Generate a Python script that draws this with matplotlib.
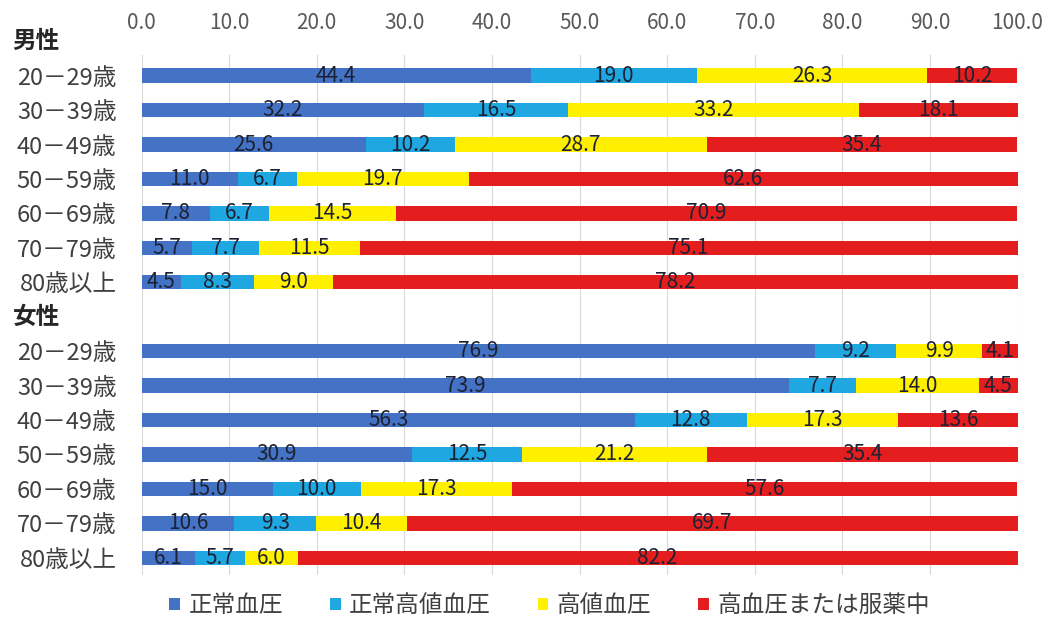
import numpy as np
import matplotlib.pyplot as plt
from matplotlib.transforms import blended_transform_factory

plt.rcParams['font.family'] = ['Noto Sans CJK JP', 'DejaVu Sans']

#%% datos
ages = ['20－29歳', '30－39歳', '40－49歳', '50－59歳', '60－69歳', '70－79歳', '80歳以上']
groups = ['男性', '女性']
series = ['正常血圧', '正常高値血圧', '高値血圧', '高血圧または服薬中']
colors = ['#4472C4', '#1FA7E1', '#FFF000', '#E41E1E']

male_normal = [44.4, 32.2, 25.6, 11.0, 7.8, 5.7, 4.5]
male_high_normal = [19.0, 16.5, 10.2, 6.7, 6.7, 7.7, 8.3]
male_elevated = [26.3, 33.2, 28.7, 19.7, 14.5, 11.5, 9.0]
male_hyper = [10.2, 18.1, 35.4, 62.6, 70.9, 75.1, 78.2]

female_normal = [76.9, 73.9, 56.3, 30.9, 15.0, 10.6, 6.1]
female_high_normal = [9.2, 7.7, 12.8, 12.5, 10.0, 9.3, 5.7]
female_elevated = [9.9, 14.0, 17.3, 21.2, 17.3, 10.4, 6.0]
female_hyper = [4.1, 4.5, 13.6, 35.4, 57.6, 69.7, 82.2]

male = [male_normal, male_high_normal, male_elevated, male_hyper]
female = [female_normal, female_high_normal, female_elevated, female_hyper]

#%% posiciones
# slot 0 = 男性 header, 1-7 male, 8 = 女性 header, 9-15 female
y_male = np.arange(1, 8)
y_female = np.arange(9, 16)

fig = plt.figure(figsize=(10.49, 6.22), dpi=100)
ax = fig.add_axes([0.135, 0.0756, 0.835, 0.836])

for data, ypos in [(male, y_male), (female, y_female)]:
    left = np.zeros(len(ypos))
    for i, vals in enumerate(data):
        vals = np.array(vals)
        bars = ax.barh(ypos, vals, left=left, height=0.42, color=colors[i],
                       label=series[i] if ypos[0] == 1 else None, zorder=2)
        ax.bar_label(bars, labels=[f'{v:.1f}' for v in vals], label_type='center',
                     fontsize=15, color='#1c2233')
        left = left + vals

ax.set_xlim(0, 100)
ax.set_ylim(15.5, 0.4)
ax.set_xticks(np.arange(0, 101, 10))
ax.set_xticklabels([f'{v:.1f}' for v in np.arange(0, 101, 10)])
ax.xaxis.tick_top()
ax.tick_params(axis='x', length=0, labelsize=15, colors='#595959', pad=15)
ax.grid(axis='x', color='#d9d9d9', linewidth=0.8, zorder=0)
ax.set_axisbelow(True)

ax.set_yticks(np.concatenate([y_male, y_female]))
ax.set_yticklabels(ages + ages)
ax.tick_params(axis='y', length=0, labelsize=17, colors='#404040', pad=18)

for s in ax.spines.values():
    s.set_visible(False)

# group headers
trans = blended_transform_factory(fig.transFigure, ax.transData)
ax.text(0.012, 0, groups[0], transform=trans, fontsize=17, fontweight='bold',
        color='#262626', va='center', ha='left')
ax.text(0.012, 8, groups[1], transform=trans, fontsize=17, fontweight='bold',
        color='#262626', va='center', ha='left')

fig.legend(loc='center', ncol=4, frameon=False, fontsize=17,
           bbox_to_anchor=(0.524, 0.026), handlelength=0.45, handleheight=0.45,
           columnspacing=2.0, handletextpad=0.35, labelcolor='#404040')

fig.savefig('out.png', dpi=100)
